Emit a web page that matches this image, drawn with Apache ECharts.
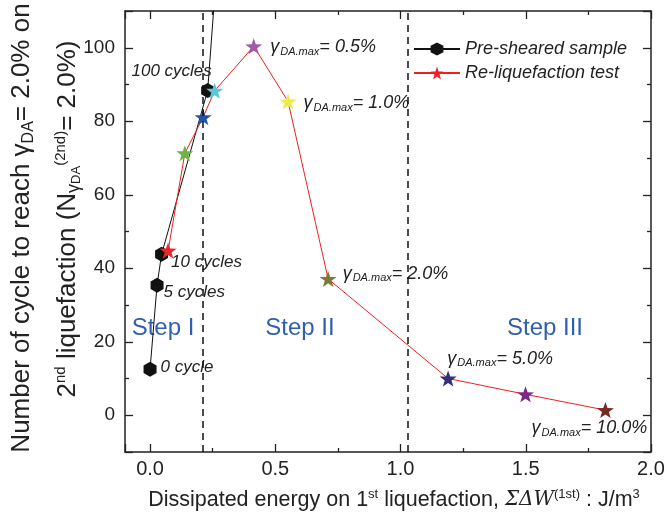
<!DOCTYPE html>
<html><head><meta charset="utf-8">
<script src="https://cdn.jsdelivr.net/npm/echarts@6/dist/echarts.min.js"></script>
<style>html,body{margin:0;padding:0;background:#fff}#c{width:668px;height:529px}</style>
</head><body><div id="c"></div>
<script>
// ---- data ----
const preX = [0.0, 0.028, 0.046, 0.23, 0.27];
const preY = [12.5, 35.4, 43.8, 88.4, 125];
const preLabels = ['0 cycle', '5 cycles', '10 cycles', '100 cycles', ''];
const reX = [0.072, 0.139, 0.212, 0.258, 0.414, 0.551, 0.711, 1.19, 1.499, 1.818];
const reY = [44.8, 71.3, 81.1, 88.3, 100.4, 85.4, 37.1, 10.0, 5.7, 1.4];
const reLabels = ['', '', '', '', '0.5%', '1.0%', '2.0%', '5.0%', '', '10.0%'];
const stepBounds = [0.21, 1.03];
const stepNames = ['Step I', 'Step II', 'Step III'];
const xTicks = [0, 0.5, 1.0, 1.5, 2.0];
const yTicks = [0, 20, 40, 60, 80, 100];
const seriesNames = ['Pre-sheared sample', 'Re-liquefaction test'];

// ---- styles ----
const F = '"Liberation Sans", Arial, Helvetica, sans-serif';
const starColors = ['#e8262a', '#6cb444', '#2552a6', '#5cc5d8', '#a25aab', '#eeea48', '#7b7a38', '#372c78', '#7d2a87', '#762a1f'];
const HEX = 'path://M0,-1L0.866,-0.5L0.866,0.5L0,1L-0.866,0.5L-0.866,-0.5Z';
const STAR = 'path://M0,-1L0.235,-0.324L0.951,-0.309L0.38,0.124L0.588,0.809L0,0.4L-0.588,0.809L-0.38,0.124L-0.951,-0.309L-0.235,-0.324Z';
const preLabelLayout = [
  {position: 'right', distance: 4, offset: [0, -2]},
  {position: 'right', distance: 0, offset: [0, 7]},
  {position: 'right', distance: 3, offset: [0, 8]},
  {position: 'top', distance: 3, offset: [-36, 0]},
  {}
];
const reLabelLayout = {
  4: {position: 'right', distance: 8, offset: [0, 1]},
  5: {position: 'right', distance: 7, offset: [0, 2]},
  6: {position: 'right', distance: 6, offset: [0, -5]},
  7: {position: 'top', distance: 2, offset: [52, 0]},
  9: {position: 'bottom', distance: 0, offset: [-16, 0]}
};
const gRich = {
  g: {fontFamily: F, fontSize: 18, fontStyle: 'italic', color: '#222', lineHeight: 20, verticalAlign: 'middle'},
  s: {fontFamily: F, fontSize: 11, fontStyle: 'italic', color: '#222', lineHeight: 11, padding: [14, 0, 0, 1], verticalAlign: 'bottom'},
  n: {fontFamily: F, fontSize: 18, fontStyle: 'italic', color: '#222', lineHeight: 20, verticalAlign: 'middle'}
};

const preData = preX.map((x, i) => {
  const d = {value: [x, preY[i]]};
  if (preLabels[i]) {
    d.label = Object.assign({show: true, formatter: preLabels[i], fontFamily: F, fontSize: 17, fontStyle: 'italic', color: '#222'}, preLabelLayout[i]);
  }
  return d;
});
const reData = reX.map((x, i) => {
  const d = {value: [x, reY[i]], itemStyle: {color: starColors[i]}};
  if (reLabels[i]) {
    d.label = Object.assign({show: true, formatter: '{g|γ}{s|DA.max}{n|= ' + reLabels[i] + '}', rich: gRich}, reLabelLayout[i]);
  }
  return d;
});

const near = (v, arr) => arr.some(t => Math.abs(v - t) < 1e-6);
const axisCommon = {
  axisLine: {show: true, onZero: false, lineStyle: {color: '#222', width: 1.5}},
  axisTick: {show: true, inside: true, length: 8, lineStyle: {color: '#222', width: 1.3}},
  minorTick: {show: true, splitNumber: 2, length: 4, lineStyle: {color: '#222', width: 1.3}},
  splitLine: {show: false}
};

const chart = echarts.init(document.getElementById('c'), null, {renderer: 'canvas'});
const option = {
  animation: false,
  backgroundColor: '#fff',
  grid: {left: 125, right: 17, top: 11, bottom: 77, containLabel: false},
  xAxis: [
    Object.assign({type: 'value', min: -0.1, max: 2.0, position: 'bottom',
      axisLabel: {show: true, margin: 7, fontFamily: F, fontSize: 20, color: '#222',
        formatter: v => near(v, xTicks) ? v.toFixed(1) : ''}}, axisCommon),
    Object.assign({type: 'value', min: -0.1, max: 2.0, position: 'top', axisLabel: {show: false}}, axisCommon)
  ],
  yAxis: [
    Object.assign({type: 'value', min: -10, max: 110, position: 'left',
      axisLabel: {show: true, margin: 10, fontFamily: F, fontSize: 19, color: '#222',
        formatter: v => near(v, yTicks) ? String(Math.round(v)) : ''}}, axisCommon),
    Object.assign({type: 'value', min: -10, max: 110, position: 'right', axisLabel: {show: false}}, axisCommon)
  ],
  legend: {
    orient: 'vertical', left: 408, top: 35, itemWidth: 46, itemHeight: 16, itemGap: 6,
    textStyle: {fontFamily: F, fontSize: 18, fontStyle: 'italic', color: '#222'},
    data: seriesNames
  },
  series: [
    {
      name: seriesNames[0], type: 'line', data: preData, symbol: HEX, symbolSize: [13, 15],
      itemStyle: {color: '#111'}, lineStyle: {color: '#111', width: 1}, clip: true, z: 2,
      markLine: {silent: true, symbol: 'none', label: {show: false},
        lineStyle: {color: '#111', width: 1.5, type: [7, 5]},
        data: stepBounds.map(b => ({xAxis: b}))}
    },
    {
      name: seriesNames[1], type: 'line', data: reData, symbol: STAR, symbolSize: [17, 16],
      itemStyle: {color: '#ee2020'}, lineStyle: {color: '#ee2020', width: 1}, clip: true, z: 3
    }
  ],
  graphic: [
    {type: 'text', x: 163, y: 328, style: {text: stepNames[0], font: '24px ' + F, fill: '#2f5fae', align: 'center', verticalAlign: 'middle'}},
    {type: 'text', x: 300, y: 328, style: {text: stepNames[1], font: '24px ' + F, fill: '#2f5fae', align: 'center', verticalAlign: 'middle'}},
    {type: 'text', x: 545, y: 328, style: {text: stepNames[2], font: '24px ' + F, fill: '#2f5fae', align: 'center', verticalAlign: 'middle'}},
    {type: 'text', x: 394, y: 500, style: {
      text: '{t|Dissipated energy on 1}{sup|st}{t| liquefaction, }{i|ΣΔW}{sup|(1st)}{t| : J/m}{sup|3}',
      align: 'center', verticalAlign: 'middle',
      rich: {
        t: {fontFamily: F, fontSize: 21.5, fill: '#222', lineHeight: 24, verticalAlign: 'middle'},
        i: {fontFamily: 'DejaVu Serif, serif', fontSize: 20, fontStyle: 'italic', fill: '#222', lineHeight: 24, verticalAlign: 'middle'},
        sup: {fontFamily: F, fontSize: 13, fill: '#222', lineHeight: 13, padding: [0, 0, 13, 0], verticalAlign: 'top'}
      }}},
    {type: 'text', x: 22, y: 228, rotation: Math.PI / 2, style: {
      text: '{t|Number of cycle to reach }{t|γ}{s|DA}{t|= 2.0% on}',
      align: 'center', verticalAlign: 'middle',
      rich: {
        t: {fontFamily: F, fontSize: 26, fill: '#222', lineHeight: 30, verticalAlign: 'middle'},
        s: {fontFamily: F, fontSize: 16, fill: '#222', lineHeight: 16, padding: [20, 0, 0, 0], verticalAlign: 'bottom'}
      }}},
    {type: 'text', x: 68, y: 219, rotation: Math.PI / 2, style: {
      text: '{t|2}{sup|nd}{t| liquefaction (N}{s|γ}{ss|DA}{sup|(2nd)}{t|= 2.0%)}',
      align: 'center', verticalAlign: 'middle',
      rich: {
        t: {fontFamily: F, fontSize: 26, fill: '#222', lineHeight: 30, verticalAlign: 'middle'},
        s: {fontFamily: F, fontSize: 18, fill: '#222', lineHeight: 18, padding: [18, 0, 0, 0], verticalAlign: 'bottom'},
        ss: {fontFamily: F, fontSize: 13, fill: '#222', lineHeight: 13, padding: [28, 0, 0, 0], verticalAlign: 'bottom'},
        sup: {fontFamily: F, fontSize: 15, fill: '#222', lineHeight: 15, padding: [0, 0, 20, 0], verticalAlign: 'top'}
      }}}
  ]
};
chart.setOption(option);
</script>
</body></html>
